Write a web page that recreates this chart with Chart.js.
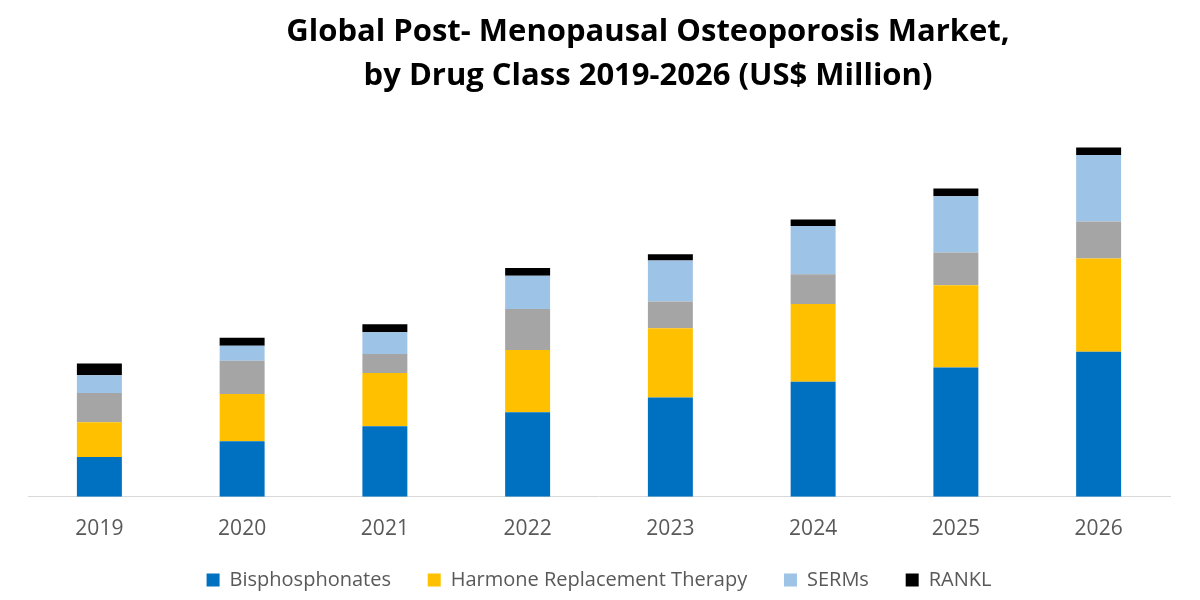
<!DOCTYPE html>
<html>
<head>
<meta charset="utf-8">
<script src="https://cdn.jsdelivr.net/npm/chart.js@4.4.1/dist/chart.umd.min.js"></script>
<style>
  html, body { margin: 0; padding: 0; background: #fff; }
  #wrap { width: 1200px; height: 600px; position: relative; }
</style>
</head>
<body>
<div id="wrap"><canvas id="chart"></canvas></div>
<script>
// Datos (US$ Million, escala aproximada)
const years = ['2019', '2020', '2021', '2022', '2023', '2024', '2025', '2026'];
const bisphosphonates = [39.7, 55.4, 70.3, 84.3, 99, 114.7, 129, 144.7];
const hrt = [34.7, 47.3, 53.3, 62.3, 69.3, 77.6, 82, 93];
const others = [29.3, 33, 19, 40.7, 26.7, 29.7, 32.7, 37];
const serms = [17.7, 15, 21.7, 33.3, 40.7, 48.3, 56.3, 66.3];
const rankl = [11.6, 8, 8, 7.7, 6.3, 6.4, 7.7, 7.7];

const ctx = document.getElementById('chart');

// el título del original está corrido a la derecha
const shiftTitle = {
    id: 'shiftTitle',
    afterLayout(chart) {
        chart.titleBlock.left += 49;
        chart.titleBlock.right += 49;
    }
};

new Chart(ctx, {
    type: 'bar',
    data: {
        labels: years,
        datasets: [
            { label: 'Bisphosphonates', data: bisphosphonates, backgroundColor: '#0070C0' },
            { label: 'Harmone Replacement Therapy', data: hrt, backgroundColor: '#FFC000' },
            { label: '', data: others, backgroundColor: '#A5A5A5' },
            { label: 'SERMs', data: serms, backgroundColor: '#9DC3E6' },
            { label: 'RANKL', data: rankl, backgroundColor: '#000000' }
        ]
    },
    plugins: [shiftTitle],
    options: {
        responsive: true,
        maintainAspectRatio: false,
        animation: false,
        categoryPercentage: 1,
        barPercentage: 0.315,
        layout: {
            padding: { left: 28, right: 30, top: 0, bottom: 0 }
        },
        plugins: {
            title: {
                display: true,
                text: ['Global Post- Menopausal Osteoporosis Market,', 'by Drug Class 2019-2026 (US$ Million)'],
                color: '#000',
                font: { family: 'Open Sans', size: 31, weight: 'bold', lineHeight: 1.42 },
                padding: { top: 10, bottom: 26 }
            },
            legend: {
                position: 'bottom',
                labels: {
                    color: '#595959',
                    font: { family: 'Open Sans', size: 20 },
                    boxWidth: 13,
                    boxHeight: 13,
                    padding: 16,
                    filter: item => item.text !== '',
                    generateLabels(chart) {
                        const items = Chart.defaults.plugins.legend.labels.generateLabels(chart);
                        // espacio extra entre elementos de la leyenda
                        items.forEach((it, i) => {
                            if (it.text !== '' && i < items.length - 1) it.text += '    ';
                        });
                        return items;
                    }
                }
            },
            tooltip: { enabled: false }
        },
        scales: {
            x: {
                stacked: true,
                grid: { display: false },
                border: { color: '#d9d9d9', width: 1 },
                ticks: {
                    color: '#595959',
                    font: { family: 'Open Sans', size: 21 },
                    padding: 12
                }
            },
            y: {
                stacked: true,
                display: false,
                min: 0,
                max: 372
            }
        }
    }
});
</script>
</body>
</html>
